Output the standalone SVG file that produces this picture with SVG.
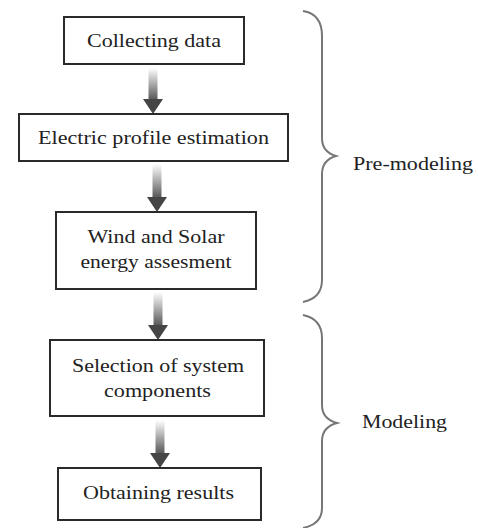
<svg xmlns="http://www.w3.org/2000/svg" width="478" height="528" viewBox="0 0 478 528">
<style>
.box{fill:#fff;stroke:#2a2a2a;stroke-width:2}
.brace{fill:none;stroke:#777;stroke-width:2}
.head{fill:#444}
</style>
<defs>
<linearGradient id="sg" x1="0" y1="0" x2="0" y2="1">
<stop offset="0" stop-color="#ffffff"/>
<stop offset="1" stop-color="#555"/>
</linearGradient>
<filter id="bl" x="-20%" y="-20%" width="140%" height="140%"><feGaussianBlur stdDeviation="0.6"/></filter>
</defs>
<rect width="478" height="528" fill="#fff"/>
<g id="connectors" filter="url(#bl)">
<g id="a1"><rect x="148.5" y="68" width="9" height="32" fill="url(#sg)"/><path class="head" d="M143 99 L163 99 L153 114 Z"/></g>
<g id="a2"><rect x="152.5" y="164" width="9" height="34" fill="url(#sg)"/><path class="head" d="M147 197 L167 197 L157 212 Z"/></g>
<g id="a3"><rect x="153.5" y="292" width="9" height="34" fill="url(#sg)"/><path class="head" d="M148 325 L168 325 L158 340 Z"/></g>
<g id="a4"><rect x="155.5" y="420" width="9" height="34" fill="url(#sg)"/><path class="head" d="M150 453 L170 453 L160 468 Z"/></g>
</g>
<g font-family="Liberation Serif, serif" font-size="19" fill="#222">
<g id="n1"><rect class="box" x="64" y="17" width="180" height="47"/><text text-anchor="middle" font-family="Liberation Serif, serif" x="154" y="47" textLength="134" lengthAdjust="spacingAndGlyphs">Collecting data</text></g>
<g id="n2"><rect class="box" x="19" y="114" width="269" height="47"/><text text-anchor="middle" font-family="Liberation Serif, serif" x="153.5" y="144" textLength="231" lengthAdjust="spacingAndGlyphs">Electric profile estimation</text></g>
<g id="n3"><rect class="box" x="56" y="212" width="200" height="77"/><text text-anchor="middle" font-family="Liberation Serif, serif" x="156" y="243" textLength="137" lengthAdjust="spacingAndGlyphs">Wind and Solar</text><text text-anchor="middle" font-family="Liberation Serif, serif" x="156" y="268" textLength="151" lengthAdjust="spacingAndGlyphs">energy assesment</text></g>
<g id="n4"><rect class="box" x="50" y="340" width="214" height="76"/><text text-anchor="middle" font-family="Liberation Serif, serif" x="158" y="372" textLength="172" lengthAdjust="spacingAndGlyphs">Selection of system</text><text text-anchor="middle" font-family="Liberation Serif, serif" x="157.5" y="397" textLength="107" lengthAdjust="spacingAndGlyphs">components</text></g>
<g id="n5"><rect class="box" x="58" y="468" width="203" height="52"/><text text-anchor="middle" font-family="Liberation Serif, serif" x="158.5" y="499" textLength="151" lengthAdjust="spacingAndGlyphs">Obtaining results</text></g>
<g id="brace1"><path class="brace" d="M303 11 Q322 14 322 36 L322 138 Q322 152 336 156 Q322 160 322 174 L322 280 Q322 298 303 302"/><text font-family="Liberation Serif, serif" x="353" y="170" textLength="120" lengthAdjust="spacingAndGlyphs">Pre-modeling</text></g>
<g id="brace2"><path class="brace" d="M303 315 Q322 319 322 338 L322 405 Q322 419 337 423 Q322 427 322 441 L322 508 Q322 524 303 528"/><text font-family="Liberation Serif, serif" x="362" y="428" textLength="85" lengthAdjust="spacingAndGlyphs">Modeling</text></g>
</g>
</svg>
